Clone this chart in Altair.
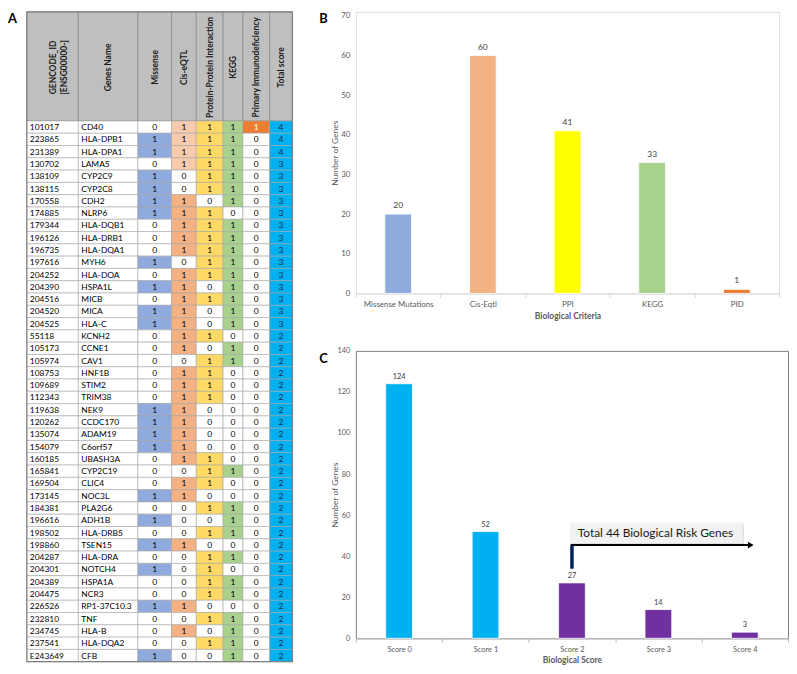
import altair as alt
import pandas as pd

# ---------------- Panel A: table data ----------------
gencode_ids = ["101017", "223865", "231389", "130702", "138109", "138115", "170558", "174885",
               "179344", "196126", "196735", "197616", "204252", "204390", "204516", "204520",
               "204525", "55118", "105173", "105974", "108753", "109689", "112343", "119638",
               "120262", "135074", "154079", "160185", "165841", "169504", "173145", "184381",
               "196616", "198502", "198860", "204287", "204301", "204389", "204475", "226526",
               "232810", "234745", "237541", "E243649"]
gene_names = ["CD40", "HLA-DPB1", "HLA-DPA1", "LAMA5", "CYP2C9", "CYP2C8", "CDH2", "NLRP6",
              "HLA-DQB1", "HLA-DRB1", "HLA-DQA1", "MYH6", "HLA-DOA", "HSPA1L", "MICB", "MICA",
              "HLA-C", "KCNH2", "CCNE1", "CAV1", "HNF1B", "STIM2", "TRIM38", "NEK9",
              "CCDC170", "ADAM19", "C6orf57", "UBASH3A", "CYP2C19", "CLIC4", "NOC3L", "PLA2G6",
              "ADH1B", "HLA-DRB5", "TSEN15", "HLA-DRA", "NOTCH4", "HSPA1A", "NCR3", "RP1-37C10.3",
              "TNF", "HLA-B", "HLA-DQA2", "CFB"]
missense = [0, 1, 1, 0, 1, 1, 1, 1, 0, 0, 0, 1, 0, 1, 0, 1, 1, 0, 0, 0, 0, 0,
            0, 1, 1, 1, 1, 0, 0, 0, 1, 0, 1, 0, 1, 0, 1, 0, 0, 1, 0, 0, 0, 1]
cis_eqtl = [1, 1, 1, 1, 0, 0, 1, 1, 1, 1, 1, 0, 1, 1, 1, 1, 1, 1, 1, 0, 1, 1,
            1, 1, 1, 1, 1, 1, 0, 1, 1, 0, 0, 0, 1, 0, 0, 0, 0, 1, 0, 1, 0, 0]
ppi = [1, 1, 1, 1, 1, 1, 0, 1, 1, 1, 1, 1, 1, 0, 1, 0, 0, 1, 0, 1, 1, 1,
       1, 0, 0, 0, 0, 1, 1, 1, 0, 1, 0, 1, 0, 1, 1, 1, 1, 0, 1, 0, 1, 0]
kegg = [1, 1, 1, 1, 1, 1, 1, 0, 1, 1, 1, 1, 1, 1, 1, 1, 1, 0, 1, 1, 0, 0,
        0, 0, 0, 0, 0, 0, 1, 0, 0, 1, 1, 1, 0, 1, 0, 1, 1, 0, 1, 1, 1, 1]
primary_immuno = [1, 0, 0, 0, 0, 0, 0, 0, 0, 0, 0, 0, 0, 0, 0, 0, 0, 0, 0, 0, 0, 0,
                  0, 0, 0, 0, 0, 0, 0, 0, 0, 0, 0, 0, 0, 0, 0, 0, 0, 0, 0, 0, 0, 0]
total_score = [4, 4, 4, 3, 3, 3, 3, 3, 3, 3, 3, 3, 3, 3, 3, 3, 3, 2, 2, 2, 2, 2,
               2, 2, 2, 2, 2, 2, 2, 2, 2, 2, 2, 2, 2, 2, 2, 2, 2, 2, 2, 2, 2, 2]
header_labels = ["GENCODE_ID\n[ENSG00000-]", "Genes Name", "Missense", "Cis-eQTL",
                 "Protein-Protein Interaction", "KEGG", "Primary Immunodeficiency", "Total score"]

# ---------------- Panel B data ----------------
criteria = ["Missense Mutations", "Cis-Eqtl", "PPI", "KEGG", "PID"]
criteria_counts = [20, 60, 41, 33, 1]

# ---------------- Panel C data ----------------
score_labels = ["Score 0", "Score 1", "Score 2", "Score 3", "Score 4"]
score_counts = [124, 52, 27, 14, 3]
annotation_text = "Total 44 Biological Risk Genes"

# ---------------- styles ----------------
FONT = "Lato"
GRAY = "#595959"
col_widths = [52, 60, 34, 25, 27, 20, 27, 23]
table_left = 19
header_h = 110
row_h = 12.4
A_W, A_H = 290, 658
one_fill = {2: "#8faadc", 3: "#f4b183", 4: "#ffd966", 5: "#a9d18e", 6: "#ed7d31", 7: "#00b0f0"}
light_cis = "#f8cbad"
colorsB = ["#8faadc", "#f4b183", "#ffff00", "#a9d18e", "#ed7d31"]
colorsC = ["#00b0f0", "#00b0f0", "#7030a0", "#7030a0", "#7030a0"]

edges = [table_left]
for w in col_widths:
    edges.append(edges[-1] + w)

# ---------------- build table cells ----------------
columns = [gencode_ids, gene_names, missense, cis_eqtl, ppi, kegg, primary_immuno, total_score]
rows = []
for r in range(len(gene_names)):
    y0 = header_h + r * row_h
    for c, col in enumerate(columns):
        v = col[r]
        fill = "#ffffff"
        tcol = "#000000"
        if c == 7:
            fill = one_fill[7]
            tcol = "#1c2b45"
        elif c >= 2 and v == 1:
            fill = one_fill[c]
            if c == 3 and r < 4:
                fill = light_cis
            if c == 6:
                tcol = "#ffffff"
        rows.append({
            "x0": edges[c], "x1": edges[c + 1], "y0": y0, "y1": y0 + row_h,
            "xc": (edges[c] + edges[c + 1]) / 2, "xl": edges[c] + 3, "yc": y0 + row_h / 2,
            "txt": str(v), "fill": fill, "tcol": tcol, "left": c < 2,
        })
cells = pd.DataFrame(rows)
hdr = pd.DataFrame({
    "x0": edges[:-1], "x1": edges[1:], "y0": [0] * 8, "y1": [header_h] * 8,
    "xc": [(edges[i] + edges[i + 1]) / 2 for i in range(8)], "yc": [56] * 8,
    "txt": header_labels,
})
border = pd.DataFrame({"x0": [edges[0]], "x1": [edges[-1]], "y0": [0],
                       "y1": [header_h + len(gene_names) * row_h]})

xs = alt.Scale(domain=[0, A_W], nice=False, zero=False)
ys = alt.Scale(domain=[0, A_H], nice=False, zero=False, reverse=True)

cell_rect = alt.Chart(cells).mark_rect(stroke="#a6a6a6", strokeWidth=0.6).encode(
    x=alt.X("x0:Q", scale=xs, axis=None), x2="x1",
    y=alt.Y("y0:Q", scale=ys, axis=None), y2="y1",
    fill=alt.Fill("fill:N", scale=None))
cell_text_left = alt.Chart(cells).transform_filter("datum.left").mark_text(
    align="left", baseline="middle", fontSize=8.5, font=FONT).encode(
    x=alt.X("xl:Q", scale=xs, axis=None), y=alt.Y("yc:Q", scale=ys, axis=None),
    text="txt:N", color=alt.Color("tcol:N", scale=None))
cell_text_center = alt.Chart(cells).transform_filter("!datum.left").mark_text(
    align="center", baseline="middle", fontSize=8.5, font=FONT).encode(
    x=alt.X("xc:Q", scale=xs, axis=None), y=alt.Y("yc:Q", scale=ys, axis=None),
    text="txt:N", color=alt.Color("tcol:N", scale=None))
hdr_rect = alt.Chart(hdr).mark_rect(fill="#bfbfbf", stroke="#8c8c8c", strokeWidth=0.8).encode(
    x=alt.X("x0:Q", scale=xs, axis=None), x2="x1",
    y=alt.Y("y0:Q", scale=ys, axis=None), y2="y1")
hdr_text = alt.Chart(hdr).mark_text(angle=270, align="center", baseline="middle",
                                    fontSize=8.5, fontWeight="bold", font=FONT,
                                    color="#1a1a1a", lineBreak="\n", lineHeight=12).encode(
    x=alt.X("xc:Q", scale=xs, axis=None), y=alt.Y("yc:Q", scale=ys, axis=None), text="txt:N")
outer = alt.Chart(border).mark_rect(fillOpacity=0, stroke="#7f7f7f", strokeWidth=1.2).encode(
    x=alt.X("x0:Q", scale=xs, axis=None), x2="x1",
    y=alt.Y("y0:Q", scale=ys, axis=None), y2="y1")
a_label = alt.Chart(pd.DataFrame({"t": ["A"]})).mark_text(
    align="left", baseline="middle", fontSize=13, fontWeight="bold", font=FONT).encode(
    x=alt.value(0), y=alt.value(7), text="t:N")

chartA = alt.layer(hdr_rect, cell_rect, hdr_text, cell_text_left, cell_text_center, outer,
                   a_label).properties(width=A_W, height=A_H)

# ---------------- Panel B ----------------
dfB = pd.DataFrame({"criteria": criteria, "genes": criteria_counts})
xB = alt.X("criteria:N", sort=criteria, title="Biological Criteria",
           scale=alt.Scale(domain=criteria, paddingInner=0, paddingOuter=0),
           axis=alt.Axis(labelAngle=0, tickBand="extent", tickSize=4, tickColor="#d9d9d9",
                         domainColor="#d9d9d9", labelColor=GRAY, labelFontSize=8,
                         labelPadding=3, titleFontSize=8.5, titleFontWeight="bold",
                         titleColor=GRAY, titlePadding=3))
yB = alt.Y("genes:Q", scale=alt.Scale(domain=[0, 71], nice=False), title="Number of Genes",
           axis=alt.Axis(values=list(range(0, 71, 10)), ticks=False, domain=False, grid=False,
                         labelPadding=6, minExtent=13, maxExtent=13, titlePadding=4,
                         labelColor=GRAY, labelFontSize=8, titleColor=GRAY,
                         titleFontSize=8.5, titleFontWeight="normal"))
barsB = alt.Chart(dfB).mark_bar(size=27, stroke="#ffffff", strokeWidth=0.8).encode(
    x=xB, y=yB, color=alt.Color("criteria:N", scale=alt.Scale(domain=criteria, range=colorsB),
                                legend=None))
valB = alt.Chart(dfB).mark_text(dy=-9, fontSize=8.5, color="#404040", font=FONT).encode(
    x=xB, y=yB, text="genes:Q")
b_label = alt.Chart(pd.DataFrame({"t": ["B"]})).mark_text(
    align="left", baseline="top", fontSize=13, fontWeight="bold", font=FONT).encode(
    x=alt.value(-37), y=alt.value(1), text="t:N")
chartB = alt.layer(barsB, valB, b_label).properties(
    width=427, height=284, view=alt.ViewBackground(stroke="#dedee8", strokeWidth=1))

# ---------------- Panel C ----------------
dfC = pd.DataFrame({"score": score_labels, "genes": score_counts})
xC = alt.X("score:N", sort=score_labels, title="Biological Score",
           scale=alt.Scale(domain=score_labels, paddingInner=0, paddingOuter=0),
           axis=alt.Axis(labelAngle=0, tickBand="extent", tickSize=4, tickColor="#bfbfbf",
                         domainColor="#bfbfbf", labelColor=GRAY, labelFontSize=7.5,
                         labelPadding=3, titleFontSize=8.5, titleFontWeight="bold",
                         titleColor=GRAY, titlePadding=3))
yC = alt.Y("genes:Q", scale=alt.Scale(domain=[0, 140], nice=False), title="Number of Genes",
           axis=alt.Axis(values=list(range(0, 141, 20)), ticks=False, domain=False, grid=False,
                         labelPadding=6, minExtent=13, maxExtent=13, titlePadding=4,
                         labelColor=GRAY, labelFontSize=7.5, titleColor=GRAY,
                         titleFontSize=8.5, titleFontWeight="normal"))
barsC = alt.Chart(dfC).mark_bar(size=27, stroke="#ffffff", strokeWidth=0.8).encode(
    x=xC, y=yC, color=alt.Color("score:N", scale=alt.Scale(domain=score_labels, range=colorsC),
                                legend=None))
valC = alt.Chart(dfC).mark_text(dy=-7, fontSize=7.5, color="#404040", font=FONT).encode(
    x=xC, y=yC, text="genes:Q")

xa = alt.X("score:N", scale=alt.Scale(domain=score_labels, paddingInner=0, paddingOuter=0))
box_df = pd.DataFrame({"score": ["Score 2"], "score_end": ["Score 4"], "genes": [51.4]})
box_shadow = alt.Chart(box_df).mark_rule(strokeWidth=21, color="#cfcfcf", xOffset=-1,
                                         x2Offset=-1, yOffset=1.5, opacity=0.8).encode(
    x=xa, x2="score_end:N", y=alt.Y("genes:Q"))
box = alt.Chart(box_df).mark_rule(strokeWidth=21, color="#f2f2f2", xOffset=-2,
                                  x2Offset=-2).encode(
    x=xa, x2="score_end:N", y=alt.Y("genes:Q"))
txt_df = pd.DataFrame({"score": ["Score 3"], "genes": [51.4], "t": [annotation_text]})
box_text = alt.Chart(txt_df).mark_text(fontSize=12, color="#1a1a1a", font=FONT,
                                       xOffset=-3, baseline="middle").encode(
    x=xa, y=alt.Y("genes:Q"), text="t:N")
vline_df = pd.DataFrame({"score": ["Score 2"], "genes": [45.6], "g2": [33.9]})
vline = alt.Chart(vline_df).mark_rule(strokeWidth=3.5, color="#002060").encode(
    x=xa, y=alt.Y("genes:Q"), y2="g2:Q")
hline_df = pd.DataFrame({"score": ["Score 2"], "score_end": ["Score 4"], "genes": [45.4]})
hline = alt.Chart(hline_df).mark_rule(strokeWidth=2, color="#000000", xOffset=-1,
                                      x2Offset=5).encode(
    x=xa, x2="score_end:N", y=alt.Y("genes:Q"))
head_df = pd.DataFrame({"score": ["Score 4"], "genes": [45.4]})
head = alt.Chart(head_df).mark_point(shape="triangle-right", filled=True, size=45,
                                     color="#000000", opacity=1, xOffset=6).encode(
    x=xa, y=alt.Y("genes:Q"))
c_label = alt.Chart(pd.DataFrame({"t": ["C"]})).mark_text(
    align="left", baseline="top", fontSize=13, fontWeight="bold", font=FONT).encode(
    x=alt.value(-37), y=alt.value(2), text="t:N")

chartC = alt.layer(barsC, valC, box_shadow, box, box_text, vline, hline, head, c_label).properties(
    width=436, height=290, view=alt.ViewBackground(stroke="#7f7f7f", strokeWidth=1))

right = alt.vconcat(chartB, chartC, spacing=58, bounds="flush").resolve_scale(color="independent")
chart = alt.hconcat(chartA, right, spacing=61, bounds="flush").resolve_scale(
    color="independent").properties(padding=0)
chart = chart.configure_view(stroke=None).configure_axis(
    labelFont=FONT, titleFont=FONT).configure_text(font=FONT)

chart.save("out.html", embed_options={"renderer": "svg", "actions": False})
